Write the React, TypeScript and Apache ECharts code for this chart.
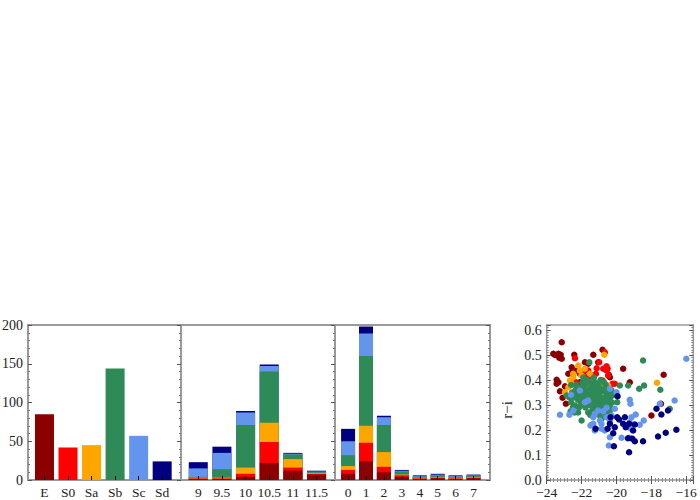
import React, { useEffect, useRef } from 'react';
import * as echarts from 'echarts';

// ---------- data ----------
const typeLabels = ['E', 'S0', 'Sa', 'Sb', 'Sc', 'Sd'];
const typeColors = ['#8B0000', '#FF0000', '#FFA500', '#2E8B57', '#6495ED', '#000080'];
const typeCounts = [85, 42, 45, 144, 57, 24];

const massLabels = ['9', '9.5', '10', '10.5', '11', '11.5'];
const massE = [1, 1, 4, 22, 12, 7];
const massS0 = [1, 1, 4, 27, 4, 1];
const massSa = [1, 1, 8, 25, 11, 1];
const massSb = [1, 11, 55, 66, 6, 1];
const massSc = [11, 21, 16, 7, 1, 1];
const massSd = [8, 8, 2, 2, 1, 1];

const thirdLabels = ['0', '1', '2', '3', '4', '5', '6', '7'];
const thirdE = [8, 24, 10, 4, 1, 2, 1, 2];
const thirdS0 = [5, 24, 7, 2, 1, 1, 1, 1];
const thirdSa = [5, 22, 19, 1, 1, 1, 1, 1];
const thirdSb = [14, 90, 35, 4, 1, 2, 1, 1];
const thirdSc = [18, 29, 10, 1, 1, 1, 1, 1];
const thirdSd = [16, 9, 2, 1, 1, 1, 1, 1];

const scatterXTicks = [-24, -22, -20, -18, -16];

const pointsE = [
  [-23.14, 0.551], [-23.62, 0.505], [-23.33, 0.505], [-23.2, 0.501], [-23.28, 0.489],
  [-23.14, 0.485], [-23.52, 0.5], [-22.42, 0.501], [-21.33, 0.501], [-22.57, 0.451],
  [-22.57, 0.431], [-23.43, 0.401], [-23.33, 0.391], [-23.43, 0.385], [-22.95, 0.375],
  [-23.24, 0.355], [-23.09, 0.329], [-22.9, 0.305], [-21.81, 0.471], [-21.05, 0.471],
  [-20.44, 0.421], [-20.38, 0.411], [-19.62, 0.445], [-19.24, 0.391], [-17.3, 0.421],
  [-18.0, 0.258], [-17.45, 0.305], [-22.76, 0.425], [-22.29, 0.438], [-22.1, 0.391],
  [-21.62, 0.465], [-20.8, 0.521],
];
const pointsS0 = [
  [-20.67, 0.511], [-20.57, 0.455], [-20.51, 0.445], [-21.14, 0.447], [-21.18, 0.425],
  [-21.62, 0.438], [-21.9, 0.431], [-20.48, 0.418], [-20.8, 0.398], [-20.23, 0.385],
  [-21.33, 0.371], [-20.76, 0.445], [-21.71, 0.411], [-21.1, 0.381], [-22.32, 0.391],
  [-20.99, 0.471], [-21.43, 0.405], [-22.1, 0.425], [-20.95, 0.365], [-20.57, 0.358],
  [-20.1, 0.385], [-20.57, 0.438], [-22.38, 0.487],
];
const pointsSa = [
  [-20.7, 0.501], [-22.19, 0.458], [-21.81, 0.445], [-22.48, 0.425], [-22.67, 0.398],
  [-22.76, 0.371], [-22.29, 0.371], [-22.48, 0.411], [-22.0, 0.418], [-20.48, 0.378],
  [-17.68, 0.389], [-20.29, 0.358], [-21.52, 0.425], [-22.1, 0.438], [-22.57, 0.385],
  [-21.71, 0.391], [-21.33, 0.398], [-22.95, 0.351], [-20.76, 0.385],
];
const pointsSb = [
  [-21.56, 0.471], [-18.48, 0.478], [-19.33, 0.378], [-18.7, 0.365], [-18.42, 0.378],
  [-17.49, 0.361], [-16.95, 0.285], [-19.81, 0.378], [-19.96, 0.311], [-20.29, 0.285],
  [-22.63, 0.275], [-22.0, 0.238], [-20.86, 0.245], [-20.95, 0.265], [-21.33, 0.298],
  [-22.38, 0.298], [-22.86, 0.338], [-20.38, 0.265],
  [-22.35, 0.36], [-22.25, 0.34], [-22.2, 0.32], [-22.1, 0.35], [-22.05, 0.3], [-22.0, 0.37],
  [-21.95, 0.33], [-21.9, 0.31], [-21.85, 0.35], [-21.8, 0.38], [-21.78, 0.29], [-21.7, 0.34],
  [-21.65, 0.32], [-21.6, 0.36], [-21.55, 0.3], [-21.5, 0.39], [-21.45, 0.33], [-21.42, 0.35],
  [-21.38, 0.28], [-21.35, 0.31], [-21.3, 0.37], [-21.25, 0.34], [-21.2, 0.32], [-21.15, 0.36],
  [-21.1, 0.3], [-21.05, 0.38], [-21.0, 0.33], [-20.95, 0.35], [-20.9, 0.29], [-20.85, 0.31],
  [-20.8, 0.36], [-20.75, 0.27], [-20.7, 0.33], [-20.65, 0.3], [-20.6, 0.35], [-20.55, 0.32],
  [-20.5, 0.28], [-22.3, 0.38], [-22.15, 0.29], [-21.95, 0.39], [-21.75, 0.31], [-21.62, 0.27],
  [-21.48, 0.37], [-21.28, 0.29], [-21.12, 0.34], [-20.98, 0.37], [-20.88, 0.33], [-20.72, 0.36],
  [-20.62, 0.38], [-22.45, 0.33], [-21.68, 0.4], [-21.22, 0.39], [-20.92, 0.4], [-21.58, 0.33],
  [-21.88, 0.36], [-22.08, 0.32], [-21.4, 0.305], [-21.02, 0.31], [-20.8, 0.29], [-20.45, 0.34],
  [-22.6, 0.31], [-22.55, 0.35], [-22.5, 0.29], [-22.4, 0.27], [-20.4, 0.3], [-20.35, 0.33],
  [-20.3, 0.36], [-20.25, 0.31], [-20.6, 0.26], [-21.0, 0.26], [-21.5, 0.26], [-22.2, 0.27],
  [-21.9, 0.41], [-21.3, 0.41], [-20.7, 0.39], [-22.6, 0.38], [-22.7, 0.33], [-20.2, 0.34],
];
const pointsSc = [
  [-16.0, 0.485], [-16.67, 0.318], [-17.52, 0.305], [-19.24, 0.321], [-19.2, 0.305],
  [-18.9, 0.262], [-19.14, 0.251], [-18.44, 0.238], [-19.24, 0.231], [-18.67, 0.221],
  [-19.2, 0.207], [-19.71, 0.169], [-19.24, 0.169], [-20.44, 0.138], [-20.67, 0.198],
  [-20.86, 0.225], [-21.33, 0.225], [-21.49, 0.218], [-21.24, 0.198], [-22.7, 0.261],
  [-22.48, 0.278], [-22.1, 0.358], [-21.81, 0.311], [-21.05, 0.278], [-20.57, 0.289],
  [-20.29, 0.258], [-20.1, 0.285], [-20.0, 0.351], [-20.38, 0.365], [-20.86, 0.205],
  [-20.76, 0.275], [-20.95, 0.238], [-21.24, 0.265], [-21.62, 0.318], [-20.57, 0.251],
  [-20.38, 0.238], [-21.33, 0.251], [-22.61, 0.341], [-23.24, 0.261], [-20.38, 0.171],
  [-21.43, 0.221],
];
const pointsSd = [
  [-17.71, 0.285], [-17.43, 0.262], [-17.05, 0.278], [-16.57, 0.201], [-17.18, 0.189],
  [-17.62, 0.174], [-18.48, 0.155], [-18.95, 0.155], [-19.09, 0.165], [-19.28, 0.111],
  [-20.15, 0.135], [-19.96, 0.251], [-19.85, 0.242], [-20.34, 0.251], [-20.38, 0.225],
  [-20.51, 0.205], [-20.1, 0.211], [-19.52, 0.251], [-19.47, 0.211], [-19.62, 0.225],
  [-19.94, 0.335], [-19.28, 0.225], [-18.95, 0.222], [-19.05, 0.198], [-20.19, 0.187],
  [-21.2, 0.205], [-19.34, 0.167],
];

// ---------- helpers ----------
const FONT = 'Liberation Serif';
const TEXT = '#222';
const FRAME = '#9a9a9a';
const LABEL_SIZE = 13.5;

const gridBase = { top: 325, height: 155, show: true, borderColor: FRAME, borderWidth: 2, backgroundColor: 'transparent', containLabel: false, outerBoundsMode: 'none' };

function catXAxis(gridIndex: number, min: number, max: number, labels: string[], first: number) {
  const vals = labels.map((_, i) => i + first);
  return {
    type: 'value', gridIndex, min, max, position: 'bottom', z: 5,
    axisLine: { show: false },
    splitLine: { show: false },
    axisTick: { show: true, inside: true, length: 4, customValues: vals, lineStyle: { color: '#000', width: 1 } },
    axisLabel: {
      show: true, customValues: vals, margin: 5, fontFamily: FONT, fontSize: LABEL_SIZE, color: TEXT,
      formatter: (v: number) => labels[Math.round(v) - first] ?? '',
    },
  };
}

function barYAxis(gridIndex: number, position: string, labels: boolean, ticks: boolean) {
  return {
    type: 'value', gridIndex, min: 0, max: 200, interval: 50, position,
    axisLine: { show: false },
    splitLine: { show: false },
    axisTick: { show: ticks, inside: true, length: 4, lineStyle: { color: '#555' } },
    minorTick: { show: ticks, splitNumber: 5, length: 2, lineStyle: { color: '#777' } },
    axisLabel: { show: labels, margin: 5, fontFamily: FONT, fontSize: 14, color: TEXT },
  };
}

// stacked look: each layer is drawn up to its cumulative top, top layer first, so lower layers cover it
function stackSeries(gridIndex: number, arrays: number[][], first: number, width: number) {
  const cum: number[][] = [];
  arrays.forEach((arr, t) => {
    cum.push(arr.map((v, i) => v + (t > 0 ? cum[t - 1][i] : 0)));
  });
  const out: any[] = [];
  for (let t = arrays.length - 1; t >= 0; t--) {
    out.push({
      type: 'bar', xAxisIndex: gridIndex, yAxisIndex: gridIndex * 2, barWidth: width, barGap: '-100%',
      itemStyle: { color: typeColors[t] },
      data: cum[t].map((v, i) => [i + first, v]),
    });
  }
  return out;
}

const fmtMinus = (v: number) => String(v).replace('-', '\u2212');

const scatterAxisCommon = {
  axisLine: { show: false }, splitLine: { show: false },
  axisTick: { show: true, inside: true, length: 4, lineStyle: { color: '#555' } },
  minorTick: { show: true, splitNumber: 10, length: 2, lineStyle: { color: '#888' } },
};

const option: any = {
  animation: false,
  backgroundColor: '#fff',
  textStyle: { fontFamily: FONT },
  grid: [
    { ...gridBase, left: 28, width: 153 },
    { ...gridBase, left: 181, width: 154 },
    { ...gridBase, left: 335, width: 155 },
    { ...gridBase, left: 546.7, width: 146.6, borderWidth: 1.5 },
  ],
  xAxis: [
    catXAxis(0, 0.3, 6.8, typeLabels, 1),
    catXAxis(1, 0.27, 6.78, massLabels, 1),
    catXAxis(2, -0.73, 7.92, thirdLabels, 0),
    {
      type: 'value', gridIndex: 3, min: -24, max: -15.6, interval: 2, position: 'bottom', ...scatterAxisCommon,
      axisLabel: { show: true, margin: 5, fontFamily: FONT, fontSize: LABEL_SIZE, color: TEXT, formatter: fmtMinus, customValues: scatterXTicks },
    },
    {
      type: 'value', gridIndex: 3, min: -24, max: -15.6, interval: 2, position: 'top', ...scatterAxisCommon,
      axisLabel: { show: false },
    },
  ],
  yAxis: [
    barYAxis(0, 'left', true, true),
    barYAxis(0, 'right', false, true),
    barYAxis(1, 'left', false, false),
    barYAxis(1, 'right', false, true),
    barYAxis(2, 'left', false, false),
    barYAxis(2, 'right', false, true),
    {
      type: 'value', gridIndex: 3, min: 0, max: 0.62, interval: 0.1, position: 'left', ...scatterAxisCommon,
      axisLabel: { show: true, margin: 5, fontFamily: FONT, fontSize: 14, color: TEXT, formatter: (v: number) => v.toFixed(1) },
    },
    {
      type: 'value', gridIndex: 3, min: 0, max: 0.62, interval: 0.1, position: 'right', ...scatterAxisCommon,
      axisLabel: { show: false },
    },
  ],
  graphic: [
    {
      type: 'text', x: 507, y: 410, rotation: Math.PI / 2,
      style: { text: 'r\u2212i', fontFamily: FONT, fontSize: 15, fill: TEXT, textAlign: 'center', textVerticalAlign: 'middle' },
    },
  ],
  series: [
    {
      type: 'bar', xAxisIndex: 0, yAxisIndex: 0, barWidth: 19,
      data: typeCounts.map((v, i) => ({ value: [i + 1, v], itemStyle: { color: typeColors[i] } })),
    },
    ...stackSeries(1, [massE, massS0, massSa, massSb, massSc, massSd], 1, 19),
    ...stackSeries(2, [thirdE, thirdS0, thirdSa, thirdSb, thirdSc, thirdSd], 0, 14),
    ...[pointsE, pointsS0, pointsSa, pointsSb, pointsSc, pointsSd].map((pts, t) => ({
      type: 'scatter', xAxisIndex: 3, yAxisIndex: 6, symbolSize: 6.5,
      itemStyle: { color: typeColors[t], opacity: 1 },
      data: pts,
    })),
  ],
};

export default function App() {
  const ref = useRef<HTMLDivElement>(null);
  useEffect(() => {
    const chart = echarts.init(ref.current!, null, { renderer: 'svg' });
    chart.setOption(option);
    return () => chart.dispose();
  }, []);
  return <div ref={ref} style={{ position: 'fixed', left: 0, top: 0, width: 700, height: 500 }} />;
}
